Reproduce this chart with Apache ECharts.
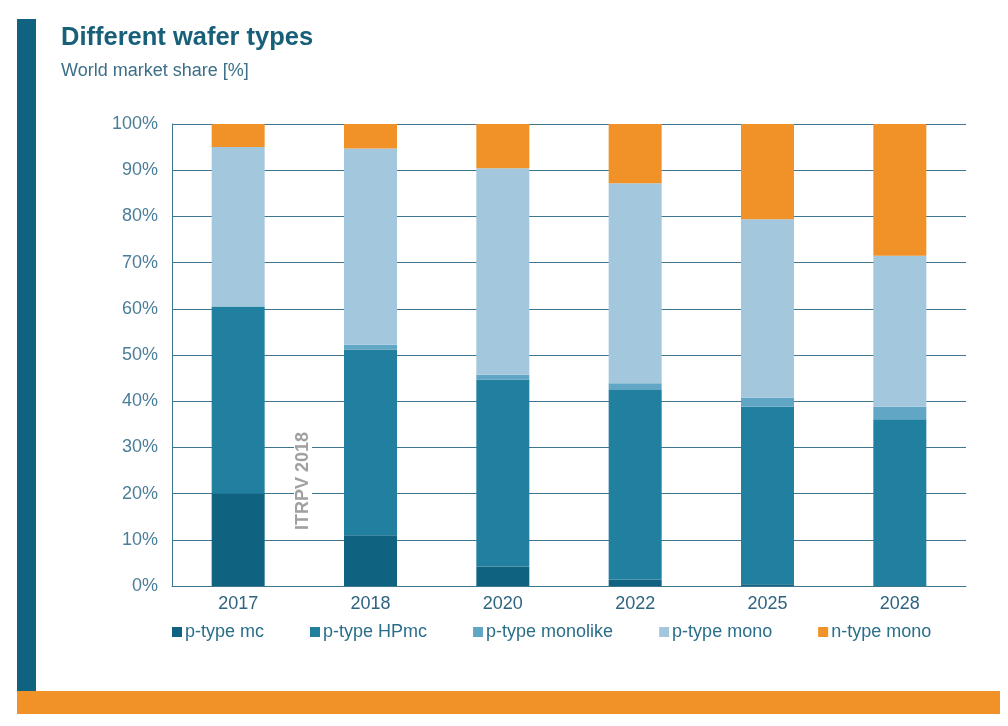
<!DOCTYPE html>
<html>
<head>
<meta charset="utf-8">
<script src="https://cdn.jsdelivr.net/npm/echarts@6/dist/echarts.min.js"></script>
<style>
html,body{margin:0;padding:0;background:#fff;}
#chart{width:1008px;height:726px;}
</style>
</head>
<body>
<div id="chart"></div>
<script>
const categories = ['2017', '2018', '2020', '2022', '2025', '2028'];
const seriesNames = ['p-type mc', 'p-type HPmc', 'p-type monolike', 'p-type mono', 'n-type mono'];
const pTypeMc = [20, 11, 4.2, 1.4, 0.4, 0];
const pTypeHPmc = [40.5, 40.2, 40.5, 41, 38.4, 36.1];
const pTypeMonolike = [0, 1, 1, 1.5, 2, 2.7];
const pTypeMono = [34.5, 42.5, 44.7, 43.3, 38.6, 32.7];
const nTypeMono = [5, 5.3, 9.6, 12.8, 20.6, 28.5];
const colors = ['#0f6381', '#217f9f', '#62a6c6', '#a3c8de', '#f09228'];
const yTicks = [0, 10, 20, 30, 40, 50, 60, 70, 80, 90, 100];

const allData = [pTypeMc, pTypeHPmc, pTypeMonolike, pTypeMono, nTypeMono];

const chart = echarts.init(document.getElementById('chart'));
chart.setOption({
  animation: false,
  backgroundColor: '#ffffff',
  title: [
    { text: 'Different wafer types', left: 56, top: 20,
      textStyle: { fontFamily: 'Liberation Sans', fontSize: 25.5, fontWeight: 'bold', color: '#186079' } },
    { text: 'World market share [%]', left: 56, top: 57,
      textStyle: { fontFamily: 'Liberation Sans', fontSize: 18, fontWeight: 'normal', color: '#3b6f88' } }
  ],
  graphic: [
    { type: 'rect', shape: { x: 17, y: 19, width: 19, height: 673 }, style: { fill: '#0f6381' }, z: 10 },
    { type: 'rect', shape: { x: 17, y: 691, width: 983, height: 23 }, style: { fill: '#f09228' }, z: 10 },
    { type: 'text', x: 303, y: 481, rotation: Math.PI / 2, z: 100,
      style: { text: 'ITRPV 2018', fill: '#a0a0a0', font: 'bold 18px Liberation Sans',
        align: 'center', verticalAlign: 'middle', backgroundColor: '#ffffff', padding: [0, 6] } }
  ],
  legend: {
    bottom: 80, left: 167, itemWidth: 10, itemHeight: 10, itemGap: 46,
    icon: 'rect',
    textStyle: { fontFamily: 'Liberation Sans', fontSize: 18, color: '#2a6e8a', padding: [0, 0, 0, -2] },
    data: seriesNames
  },
  grid: { left: 172, right: 42, top: 124, bottom: 140 },
  xAxis: {
    type: 'category', data: categories,
    axisLine: { lineStyle: { color: '#3e7590', width: 1 } },
    axisTick: { show: false },
    axisLabel: { fontFamily: 'Liberation Sans', fontSize: 18, color: '#2f6480', margin: 9 }
  },
  yAxis: {
    type: 'value', min: 0, max: 100, interval: 10,
    axisLine: { show: true, lineStyle: { color: '#3e7590', width: 1 } },
    axisTick: { show: false },
    splitLine: { lineStyle: { color: '#3e7590', width: 1 } },
    axisLabel: { fontFamily: 'Liberation Sans', fontSize: 18, color: '#4a7e99', margin: 14,
      formatter: v => yTicks.includes(v) ? v + '%' : '' }
  },
  series: seriesNames.map((name, i) => ({
    name, type: 'bar', stack: 'total', barWidth: 53,
    data: allData[i],
    itemStyle: { color: colors[i] }
  }))
});
</script>
</body>
</html>
